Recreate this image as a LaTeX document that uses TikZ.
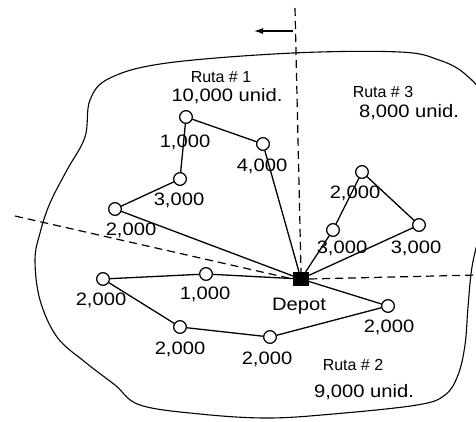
\documentclass[tikz,border=0pt]{standalone}
\usepackage{fontspec}
\setmainfont{Liberation Sans}
\usetikzlibrary{arrows.meta}
\begin{document}
\begin{tikzpicture}[x=1pt,y=-1pt,
  stop/.style={circle,draw,fill=white,line width=1.1pt,minimum size=12.5pt,inner sep=0pt},
  depot/.style={rectangle,fill=black,minimum width=16pt,minimum height=14pt,inner sep=0pt},
  route/.style={line width=1.3pt},
  divider/.style={line width=1.2pt,dash pattern=on 8pt off 5pt},
  num/.style={inner sep=0pt,font=\fontsize{18}{20}\selectfont},
  rlab/.style={inner sep=0pt,font=\fontsize{16}{18}\selectfont}]
\useasboundingbox (0,0) rectangle (476,421);
% region outline
\draw[line width=1.1pt] plot[smooth cycle,tension=0.6] coordinates {
 (110,78) (167,63) (293,53) (400,52) (439,60) (465,74) (484,100) (490,160)
 (481,225) (472,267) (468,307) (465,345) (458,375) (445,395) (417,405)
 (333,414) (267,418) (200,414) (140,405) (115,385) (85,362) (57,337)
 (40,300) (35,260) (40,233) (50,203) (67,170) (85,137) (90,100)};
% depot
\node[depot] (D) at (301,279) {};
% dividers
\coordinate (vt) at (295,8);
\coordinate (lt) at (15,216);
\coordinate (rt) at (476,275);
\draw[divider] (vt) -- (D.north);
\draw[divider] (lt) -- (D.west);
\draw[divider] (D.east) -- (rt);
\coordinate (a0) at (293,31);
\coordinate (a1) at (254,31);
\draw[line width=1.2pt,-{Latex[length=9pt,width=6pt]}] (a0) -- (a1);
% route 1
\node[stop] (A1) at (186,117) {};
\node[stop] (A2) at (263,144) {};
\node[stop] (A3) at (180,179) {};
\node[stop] (A4) at (115,209) {};
\draw[route] (D) -- (A2) -- (A1) -- (A3) -- (A4) -- (D);
% route 3
\node[stop] (C1) at (362,172) {};
\node[stop] (C2) at (333,230) {};
\node[stop] (C3) at (419,225) {};
\draw[route] (D) -- (C2) -- (C1) -- (C3) -- (D);
% route 2
\node[stop] (B1) at (206,274) {};
\node[stop] (B2) at (103,279) {};
\node[stop] (B3) at (180,327) {};
\node[stop] (B4) at (270,337) {};
\node[stop] (B5) at (388,306) {};
\draw[route] (D) -- (B1) -- (B2) -- (B3) -- (B4) -- (B5) -- (D);
% redraw nodes on top
\foreach \n in {A1,A2,A3,A4,C1,C2,C3,B1,B2,B3,B4,B5}{\node[stop] at (\n) {};}
\node[depot] at (D) {};
% labels
\node[num] (l1) at (185,142) {\scalebox{1.12}[1]{1,000}};
\node[num] (l2) at (262,166) {\scalebox{1.12}[1]{4,000}};
\node[num] (l3) at (179,200) {\scalebox{1.12}[1]{3,000}};
\node[num] (l4) at (131,230) {\scalebox{1.12}[1]{2,000}};
\node[num] (l5) at (355,193) {\scalebox{1.12}[1]{2,000}};
\node[num] (l6) at (342,248) {\scalebox{1.12}[1]{3,000}};
\node[num] (l7) at (416,248) {\scalebox{1.12}[1]{3,000}};
\node[num] (l8) at (205,294) {\scalebox{1.12}[1]{1,000}};
\node[num] (l9) at (101,300) {\scalebox{1.12}[1]{2,000}};
\node[num] (l10) at (180,349) {\scalebox{1.12}[1]{2,000}};
\node[num] (l11) at (267,359) {\scalebox{1.12}[1]{2,000}};
\node[num] (l12) at (389,327) {\scalebox{1.12}[1]{2,000}};
\node[num] (dl) at (299,306) {\scalebox{1.12}[1]{Depot}};
\node[rlab] (r1) at (221,77) {Ruta \# 1};
\node[num] (r1u) at (227,96) {\scalebox{1.12}[1]{10,000 unid.}};
\node[rlab] (r3) at (383,92) {Ruta \# 3};
\node[num] (r3u) at (409,112) {\scalebox{1.12}[1]{8,000 unid.}};
\node[rlab] (r2) at (353,365) {Ruta \# 2};
\node[num] (r2u) at (364,392) {\scalebox{1.12}[1]{9,000 unid.}};
\end{tikzpicture}
\end{document}
